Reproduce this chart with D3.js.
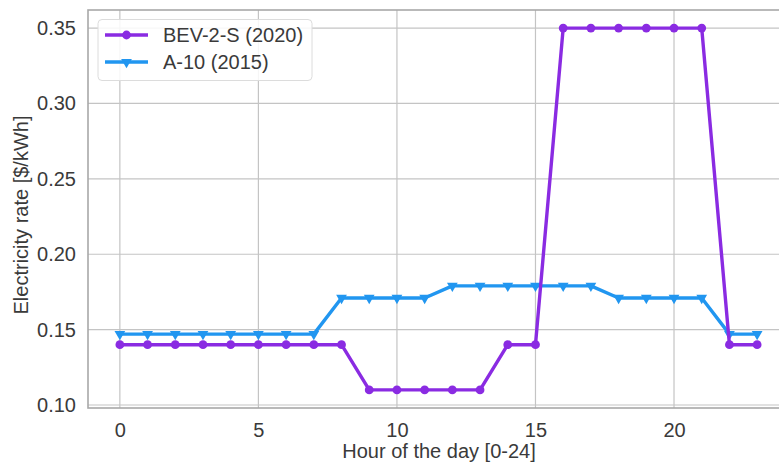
<!DOCTYPE html>
<html><head><meta charset="utf-8">
<script src="https://cdn.jsdelivr.net/npm/d3@7"></script>
<style>body{margin:0;background:#fff}svg{display:block;font-family:"Liberation Sans",Arial,sans-serif}</style>
</head><body>
<svg id="c" width="779" height="464"></svg>
<script>
const hours = d3.range(0, 24);
const bev = [0.14,0.14,0.14,0.14,0.14,0.14,0.14,0.14,0.14,0.11,0.11,0.11,0.11,0.11,0.14,0.14,0.35,0.35,0.35,0.35,0.35,0.35,0.14,0.14];
const a10 = [0.147,0.147,0.147,0.147,0.147,0.147,0.147,0.147,0.171,0.171,0.171,0.171,0.179,0.179,0.179,0.179,0.179,0.179,0.171,0.171,0.171,0.171,0.147,0.147];
const xTicks = [0,5,10,15,20];
const yTicks = [0.10,0.15,0.20,0.25,0.30,0.35];
const seriesNames = ["BEV-2-S (2020)","A-10 (2015)"];

(function(){
const svg = d3.select("#c");
const pL = 88, pR = 789, pT = 10, pB = 408;
const FS = 20, TXT = "#3a3a3a";
const x = d3.scaleLinear().domain([-1.15, 24.15]).range([pL, pR]);
const y = d3.scaleLinear().domain([0.098, 0.362]).range([pB, pT]);

const g = svg.append("g");
g.selectAll(".vg").data(xTicks).join("line")
  .attr("x1", d=>x(d)).attr("x2", d=>x(d)).attr("y1", pT).attr("y2", pB)
  .attr("stroke", "#c4c4c4").attr("stroke-width", 1.2);
g.selectAll(".hg").data(yTicks).join("line")
  .attr("x1", pL).attr("x2", pR).attr("y1", d=>y(d)).attr("y2", d=>y(d))
  .attr("stroke", "#c4c4c4").attr("stroke-width", 1.2);
g.append("rect").attr("x", pL).attr("y", pT).attr("width", pR-pL).attr("height", pB-pT)
  .attr("fill", "none").attr("stroke", "#a8a8a8").attr("stroke-width", 1.6);

const xAxis = svg.append("g").attr("transform", `translate(0,${pB})`)
  .call(d3.axisBottom(x).tickValues(xTicks).tickSize(0).tickPadding(15).tickFormat(d3.format("d")));
const yAxis = svg.append("g").attr("transform", `translate(${pL},0)`)
  .call(d3.axisLeft(y).tickValues(yTicks).tickSize(0).tickPadding(12).tickFormat(d3.format(".2f")));
[xAxis, yAxis].forEach(a => {
  a.select(".domain").remove();
  a.selectAll("text").attr("font-size", FS).attr("fill", TXT).attr("font-family", '"Liberation Sans",Arial,sans-serif');
});

svg.append("text").attr("x", 439).attr("y", 458).attr("text-anchor", "middle")
  .attr("font-size", FS).attr("fill", TXT).text("Hour of the day [0-24]");
svg.append("text").attr("transform", "translate(28,215) rotate(-90)").attr("text-anchor", "middle")
  .attr("font-size", FS).attr("fill", TXT).text("Electricity rate [$/kWh]");

const colors = ["#8a2be2", "#2196f0"];
const line = d3.line().x((d,i)=>x(hours[i])).y(d=>y(d));
const tri = d3.symbol().type(d3.symbolTriangle).size(50);

function drawSeries(vals, color, marker) {
  svg.append("path").datum(vals).attr("d", line).attr("fill", "none")
    .attr("stroke", color).attr("stroke-width", 3.4).attr("stroke-linejoin", "round");
  if (marker === "circle") {
    svg.append("g").selectAll("circle").data(vals).join("circle")
      .attr("cx", (d,i)=>x(hours[i])).attr("cy", d=>y(d)).attr("r", 4.4).attr("fill", color);
  } else {
    svg.append("g").selectAll("path").data(vals).join("path")
      .attr("d", tri).attr("fill", color)
      .attr("transform", (d,i)=>`translate(${x(hours[i])},${y(d)}) rotate(180)`);
  }
}
drawSeries(a10, colors[1], "tri");
drawSeries(bev, colors[0], "circle");

const lg = svg.append("g");
lg.append("rect").attr("x", 98).attr("y", 19.5).attr("width", 214).attr("height", 61).attr("rx", 4)
  .attr("fill", "rgba(255,255,255,0.85)").attr("stroke", "#dcdcdc").attr("stroke-width", 1);
const ly = [35, 62];
seriesNames.forEach((n, i) => {
  lg.append("line").attr("x1", 105).attr("x2", 148).attr("y1", ly[i]).attr("y2", ly[i])
    .attr("stroke", colors[i]).attr("stroke-width", 3.4);
  if (i === 0) lg.append("circle").attr("cx", 126.5).attr("cy", ly[i]).attr("r", 4.4).attr("fill", colors[i]);
  else lg.append("path").attr("d", tri).attr("fill", colors[i]).attr("transform", `translate(126.5,${ly[i]}) rotate(180)`);
  lg.append("text").attr("x", 163).attr("y", ly[i] + 7).attr("font-size", FS).attr("fill", TXT).text(n);
});
})();
</script>
</body></html>
